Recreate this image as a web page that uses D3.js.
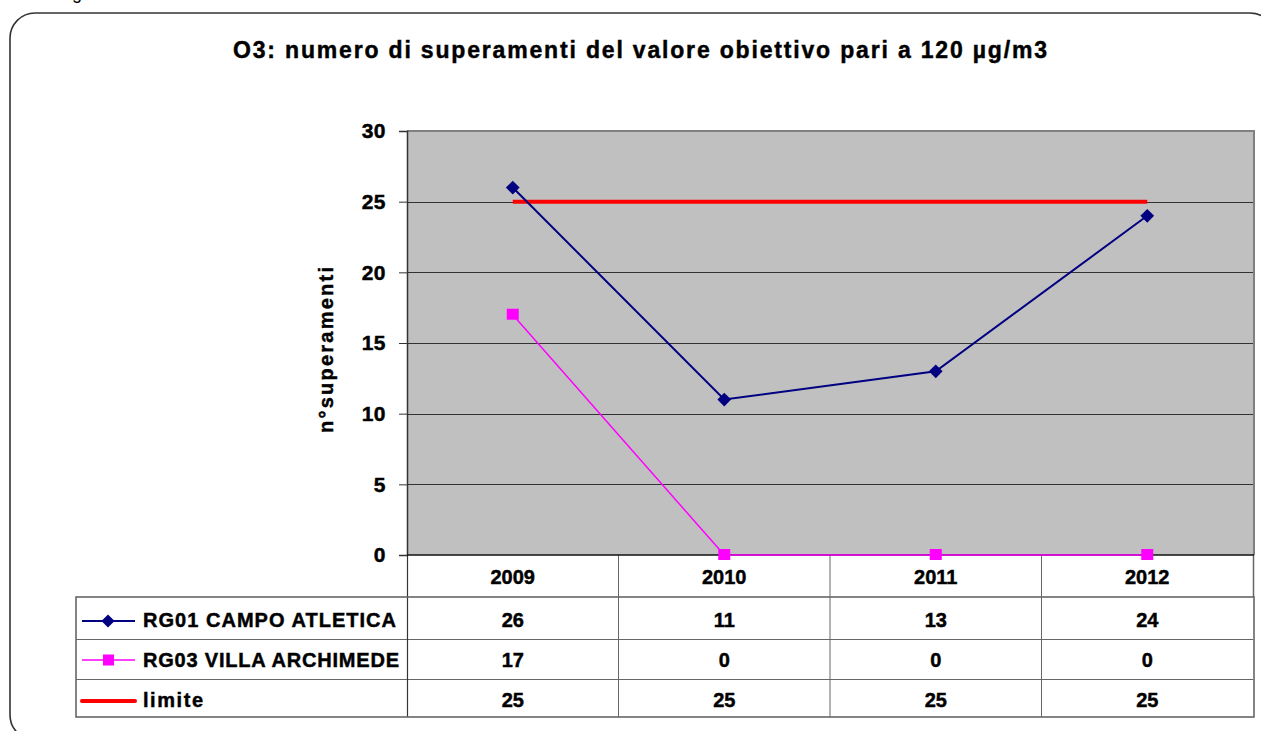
<!DOCTYPE html>
<html>
<head>
<meta charset="utf-8">
<script src="https://cdn.jsdelivr.net/npm/d3@7"></script>
<style>
  html, body { margin: 0; padding: 0; background: #fff; }
  svg { display: block; font-family: "Liberation Sans", Arial, sans-serif; }
  .heavy { stroke: #000; stroke-width: 0.45px; paint-order: stroke; }
</style>
</head>
<body>
<svg id="chart" width="1261" height="731"></svg>
<script>
// Ozone exceedances per year
const years = ["2009", "2010", "2011", "2012"];
const campoAtletica = [26, 11, 13, 24];
const villaArchimede = [17, 0, 0, 0];
const limite = [25, 25, 25, 25];
const yTicks = [0, 5, 10, 15, 20, 25, 30];

const series = [
  { name: "RG01 CAMPO ATLETICA", values: campoAtletica, color: "#000080", width: 2, marker: "diamond" },
  { name: "RG03 VILLA ARCHIMEDE", values: villaArchimede, color: "#FF00FF", width: 1.5, marker: "square" },
  { name: "limite", values: limite, color: "#FF0000", width: 4, marker: null }
];

const svg = d3.select("#chart");

const plot = { left: 407, right: 1253, top: 131, bottom: 555 };
const table = { left: 76, headerBottom: 597, bottom: 717 };
const rowLines = [639, 679];

const x = d3.scaleBand().domain(years).range([plot.left, plot.right]).padding(0);
const y = d3.scaleLinear().domain([0, 30]).range([plot.bottom, plot.top]);
const cx = d => x(d) + x.bandwidth() / 2;

// outer frame
svg.append("text").attr("x", 72).attr("y", -1).attr("font-size", 18).attr("fill", "#000").text("g");
svg.append("rect")
  .attr("x", 10).attr("y", 13).attr("width", 1265).attr("height", 727)
  .attr("rx", 25).attr("ry", 25)
  .attr("fill", "#fff").attr("stroke", "#333").attr("stroke-width", 1.6);

// title
svg.append("text").attr("class", "heavy")
  .attr("x", 640).attr("y", 58)
  .attr("text-anchor", "middle")
  .attr("font-size", 23).attr("font-weight", "bold")
  .attr("textLength", 814).attr("lengthAdjust", "spacing")
  .text("O3: numero di superamenti del valore obiettivo pari a 120 µg/m3");

// plot background
svg.append("rect")
  .attr("x", plot.left).attr("y", plot.top)
  .attr("width", plot.right - plot.left).attr("height", plot.bottom - plot.top)
  .attr("fill", "#C0C0C0");

// gridlines
svg.append("g").selectAll("line").data(yTicks.filter(t => t > 0 && t < 30)).join("line")
  .attr("x1", plot.left).attr("x2", plot.right)
  .attr("y1", d => Math.round(y(d)) + 0.5).attr("y2", d => Math.round(y(d)) + 0.5)
  .attr("stroke", "#333").attr("stroke-width", 1);

// plot border (top & right)
svg.append("path")
  .attr("d", `M${plot.left},${plot.top} H${plot.right + 1} V${plot.bottom}`)
  .attr("fill", "none").attr("stroke", "#808080").attr("stroke-width", 2);

// y axis
const yAxis = d3.axisLeft(y).tickValues(yTicks).tickSize(8).tickPadding(13);
const gy = svg.append("g").attr("transform", `translate(${plot.left},0)`).call(yAxis);
gy.select(".domain").attr("stroke", "#333").attr("stroke-width", 1.5);
gy.selectAll(".tick line").attr("stroke", "#333").attr("stroke-width", 1);
gy.selectAll(".tick text")
  .attr("class", "heavy")
  .attr("font-size", 21).attr("font-weight", "bold").attr("fill", "#000")
  .attr("font-family", "Liberation Sans, Arial, sans-serif")
  .attr("letter-spacing", 0.5);

svg.append("text").attr("class", "heavy")
  .attr("transform", "translate(333,350) rotate(-90)")
  .attr("text-anchor", "middle")
  .attr("font-size", 20).attr("font-weight", "bold")
  .attr("textLength", 166).attr("lengthAdjust", "spacing")
  .text("n°superamenti");

// data table
const tg = svg.append("g");
tg.append("rect")
  .attr("x", plot.left).attr("y", plot.bottom)
  .attr("width", plot.right - plot.left).attr("height", table.headerBottom - plot.bottom)
  .attr("fill", "#fff");
tg.selectAll(".hdiv").data(years.slice(1)).join("line")
  .attr("x1", d => x(d)).attr("x2", d => x(d))
  .attr("y1", plot.bottom).attr("y2", table.bottom)
  .attr("stroke", "#666").attr("stroke-width", 1);
tg.selectAll(".hlab").data(years).join("text")
  .attr("class", "heavy")
  .attr("x", d => cx(d)).attr("y", 584)
  .attr("text-anchor", "middle")
  .attr("font-size", 20).attr("font-weight", "bold")
  .text(d => d);

tg.selectAll(".rowline").data(rowLines).join("line")
  .attr("x1", table.left).attr("x2", plot.right)
  .attr("y1", d => d + 0.5).attr("y2", d => d + 0.5)
  .attr("stroke", "#666").attr("stroke-width", 1);
tg.append("line")
  .attr("x1", plot.left + 0.5).attr("x2", plot.left + 0.5)
  .attr("y1", plot.bottom).attr("y2", table.bottom)
  .attr("stroke", "#333").attr("stroke-width", 1.2);
tg.append("line")
  .attr("x1", plot.right + 0.5).attr("x2", plot.right + 0.5)
  .attr("y1", plot.bottom).attr("y2", table.headerBottom)
  .attr("stroke", "#666").attr("stroke-width", 1.5);
tg.append("rect")
  .attr("x", table.left).attr("y", table.headerBottom)
  .attr("width", plot.right - table.left + 1).attr("height", table.bottom - table.headerBottom)
  .attr("fill", "none").attr("stroke", "#666").attr("stroke-width", 1.6);

const baselines = [627, 667, 707];
const labelWidths = [253, 256, 60];
const keyY = [621, 660, 701];
series.forEach((s, i) => {
  const ly = keyY[i];
  tg.append("line")
    .attr("x1", 82).attr("x2", 135).attr("y1", ly).attr("y2", ly)
    .attr("stroke", s.color).attr("stroke-width", s.width)
    .attr("stroke-linecap", s.marker ? "butt" : "round");
  if (s.marker === "diamond") {
    tg.append("path").attr("d", d3.symbol(d3.symbolDiamond2, 110)())
      .attr("transform", `translate(108,${ly})`).attr("fill", s.color);
  } else if (s.marker === "square") {
    tg.append("rect").attr("x", 103).attr("y", ly - 5.5).attr("width", 11).attr("height", 11)
      .attr("fill", s.color);
  }
  tg.append("text").attr("class", "heavy")
    .attr("x", 143).attr("y", baselines[i])
    .attr("font-size", 20).attr("font-weight", "bold")
    .attr("textLength", labelWidths[i]).attr("lengthAdjust", "spacing")
    .text(s.name);
  tg.selectAll(null).data(s.values).join("text")
    .attr("class", "heavy")
    .attr("x", (d, j) => cx(years[j])).attr("y", baselines[i])
    .attr("text-anchor", "middle")
    .attr("font-size", 20).attr("font-weight", "bold")
    .text(d => d);
});

// x axis baseline
svg.append("line")
  .attr("x1", plot.left).attr("x2", plot.right + 1)
  .attr("y1", plot.bottom).attr("y2", plot.bottom)
  .attr("stroke", "#111").attr("stroke-width", 1.6);

// series lines
const line = d3.line().x((d, j) => cx(years[j])).y(d => y(d));
[2, 0, 1].forEach(i => {
  const s = series[i];
  svg.append("path").datum(s.values)
    .attr("d", line)
    .attr("fill", "none").attr("stroke", s.color).attr("stroke-width", s.width);
});
// markers
svg.append("g").selectAll("path").data(campoAtletica).join("path")
  .attr("d", d3.symbol(d3.symbolDiamond2, 120)())
  .attr("transform", (d, j) => `translate(${cx(years[j])},${y(d)})`)
  .attr("fill", "#000080");
svg.append("g").selectAll("rect").data(villaArchimede).join("rect")
  .attr("x", (d, j) => cx(years[j]) - 6).attr("y", d => y(d) - 6)
  .attr("width", 12).attr("height", 11)
  .attr("fill", "#FF00FF");
</script>
</body>
</html>
